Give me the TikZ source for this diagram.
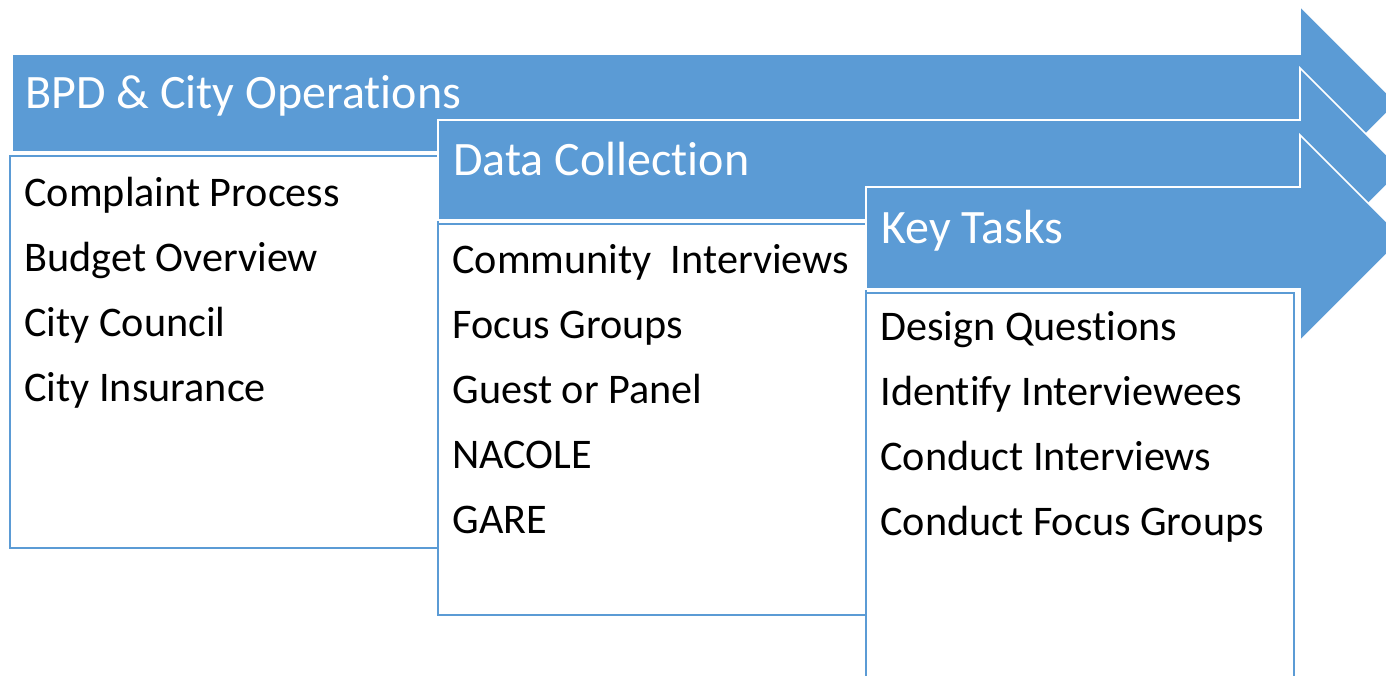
\documentclass[tikz,border=0pt]{standalone}
\usepackage{fontspec}
\setmainfont[Ligatures=NoCommon]{Carlito}
\definecolor{stageblue}{RGB}{91,155,213}
\begin{document}
\begin{tikzpicture}[x=0.5pt,y=-0.5pt]
      \tikzset{stagearrow/.style={fill=stageblue, draw=white, line width=0.8pt, line join=miter},
               itembox/.style={fill=white, draw=stageblue, line width=1pt},
               heading/.style={anchor=base west, inner sep=0pt, text=white, font=\fontsize{24}{29}\selectfont},
               item/.style={anchor=base west, inner sep=0pt, text=black, font=\fontsize{21.1}{25}\selectfont}}
      \useasboundingbox (0,0) rectangle (1386,675);
      \clip (0,0) rectangle (1386,675);
%% Stage 1
      	\path[stagearrow] (12,54) -- (1300,54) -- (1300,6) -- (1397,103) -- (1300,200) -- (1300,152) -- (12,152) -- cycle;
      	\path[itembox] (10,156) rectangle (438,548);
      	\node[heading] (bpd) at (25,108) {BPD \& City Operations};
      	\node[item] (complaint) at (24,206) {Complaint Process};
      	\node[item] (budget) at (24,271) {Budget Overview};
      	\node[item] (council) at (24,336) {City Council};
      	\node[item] (insurance) at (24,401) {City Insurance};
%% Stage 2
      	\path[stagearrow] (438,120) -- (1300,120) -- (1300,68) -- (1402,170) -- (1300,272) -- (1300,220) -- (438,220) -- cycle;
      	\path[itembox] (438,224) rectangle (866,615);
      	\node[heading] (data) at (453,175) {Data Collection};
      	\node[item] (community) at (452,273) {Community\ \ Interviews};
      	\node[item] (focus) at (452,338) {Focus Groups};
      	\node[item] (guest) at (452,403) {Guest or Panel};
      	\node[item] (nacole) at (452,468) {NACOLE};
      	\node[item] (gare) at (452,533) {GARE};
%% Stage 3
      	\path[stagearrow] (866,187) -- (1300,187) -- (1300,135) -- (1403,238) -- (1300,341) -- (1300,289) -- (866,289) -- cycle;
      	\path[itembox] (866,293) rectangle (1294,700);
      	\node[heading] (tasks) at (881,243) {Key Tasks};
      	\node[item] (design) at (880,340) {Design Questions};
      	\node[item] (identify) at (880,405) {Identify Interviewees};
      	\node[item] (interviews) at (880,470) {Conduct Interviews};
      	\node[item] (groups) at (880,535) {Conduct Focus Groups};
	\end{tikzpicture}
\end{document}
